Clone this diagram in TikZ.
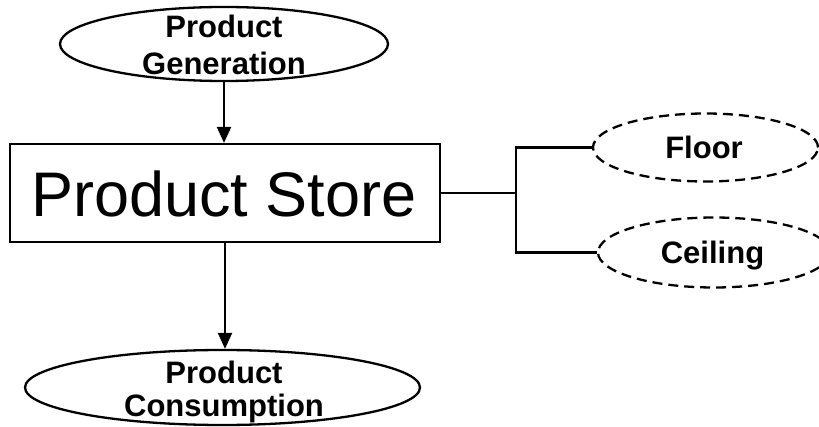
\documentclass[tikz,border=0pt]{standalone}
\usepackage{fontspec}
\setmainfont{Liberation Sans}
\usetikzlibrary{shapes.geometric,arrows.meta}

\tikzset{
  oval/.style={ellipse, draw, line width=2.3pt, inner sep=0pt},
  dashedoval/.style={oval, dash pattern=on 10pt off 6pt},
  label text/.style={font=\bfseries\fontsize{31}{37}\selectfont, align=center, inner sep=0pt},
  storebox/.style={rectangle, draw, line width=2.2pt, minimum width=430pt, minimum height=98pt, inner sep=0pt},
  link/.style={line width=2.3pt},
  flow/.style={line width=2.2pt, -{Triangle[length=16pt,width=14pt]}}
}

\begin{document}
\begin{tikzpicture}[x=1pt, y=-1pt]
  \useasboundingbox (0,0) rectangle (819,427);

  % outlines
  \node[oval, minimum width=328pt, minimum height=74pt] (gen) at (224,44) {};
  \node[storebox] (store) at (225,193) {};
  \node[oval, minimum width=395pt, minimum height=75pt] (cons) at (222.5,387.5) {};
  \node[dashedoval, minimum width=225pt, minimum height=68pt] (floor) at (705.5,147.5) {};
  \node[dashedoval, minimum width=232pt, minimum height=70pt] (ceil) at (714,252.5) {};

  % labels
  \node[label text] (gentext) at (224,44.5) {Product\\Generation};
  \node[inner sep=0pt, anchor=base, font=\fontsize{63}{70}\selectfont] (storetext) at (224,217) {Product Store};
  \node[label text, font=\bfseries\fontsize{31}{33}\selectfont] (constext) at (224,391.5) {Product\\Consumption};
  \node[label text, anchor=base] (floortext) at (704,158.5) {Floor};
  \node[label text, anchor=base] (ceiltext) at (712.5,263.5) {Ceiling};

  % connectors
  \coordinate (br) at (516,193);
  \draw[flow] (gen.south) -- (gen.south |- store.north);
  \draw[flow] (store.south) -- (store.south |- cons.north);
  \draw[link] (store.east) -- (br);
  \draw[link] (floor.west) -| (br) |- (ceil.west);
\end{tikzpicture}
\end{document}
